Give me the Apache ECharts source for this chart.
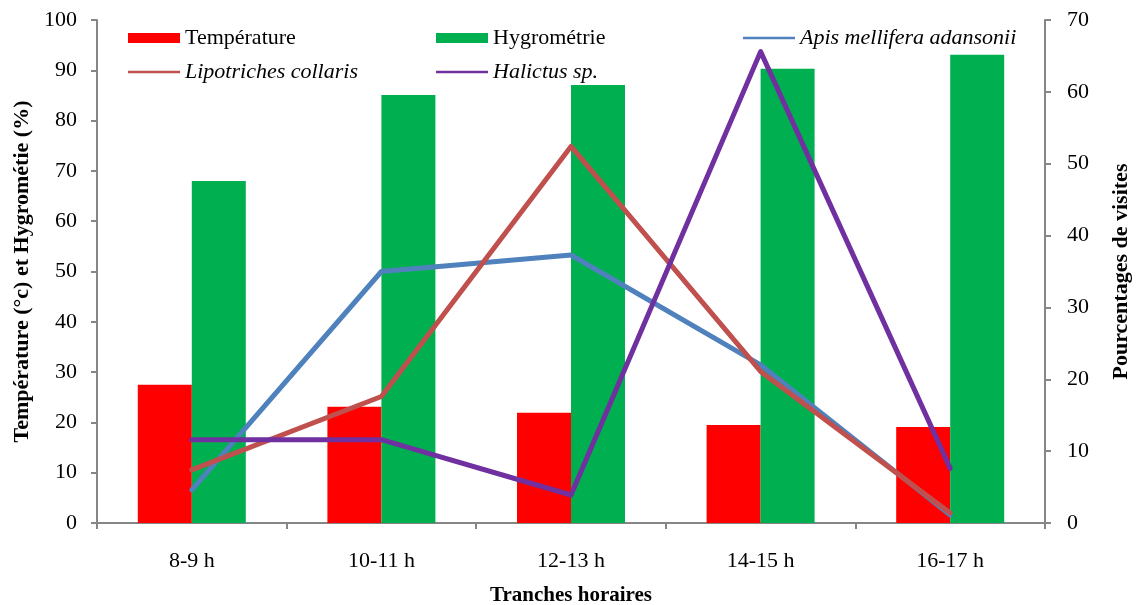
<!DOCTYPE html>
<html>
<head>
<meta charset="utf-8">
<script src="https://cdn.jsdelivr.net/npm/echarts@6/dist/echarts.min.js"></script>
<style>html,body{margin:0;padding:0;background:#fff;}#c{width:1138px;height:605px;}</style>
</head>
<body>
<div id="c"></div>
<script>
const categories = ['8-9 h', '10-11 h', '12-13 h', '14-15 h', '16-17 h'];
const temperature = [27.5, 23.1, 21.9, 19.5, 19.1];
const hygrometrie = [68.0, 85.1, 87.1, 90.3, 93.1];
const apis = [4.6, 35.0, 37.3, 22.0, 1.1];
const lipotriches = [7.4, 17.6, 52.4, 21.1, 1.4];
const halictus = [11.6, 11.6, 3.9, 65.6, 7.6];

const FONT = '"Liberation Serif", "Times New Roman", serif';
const AXC = '#868686';
const chart = echarts.init(document.getElementById('c'));

function leg(name, left, top, italic, isLine) {
  return {
    data: [{ name: name, icon: 'rect' }], left: left, top: top, padding: 0,
    itemWidth: 52, itemHeight: isLine ? 2.5 : 10, itemGap: 0,
    textStyle: { fontFamily: FONT, fontSize: 22, color: '#000', fontStyle: italic ? 'italic' : 'normal' }
  };
}

chart.setOption({
  animation: false,
  backgroundColor: '#fff',
  legend: [
    leg('Température', 128, 27, false, false),
    leg('Hygrométrie', 436, 27, false, false),
    leg('Apis mellifera adansonii', 743, 27, true, true),
    leg('Lipotriches collaris', 128, 61, true, true),
    leg('Halictus sp.', 436, 61, true, true)
  ],
  grid: { left: 97, right: 93, top: 20, bottom: 82, containLabel: false, outerBoundsMode: 'none' },
  xAxis: {
    type: 'category', data: categories,
    name: 'Tranches horaires', nameLocation: 'middle', nameGap: 62,
    nameTextStyle: { fontFamily: FONT, fontSize: 21, fontWeight: 'bold', color: '#000' },
    axisLine: { lineStyle: { color: AXC, width: 2 } },
    axisTick: { show: true, length: 6, lineStyle: { color: AXC, width: 2 } },
    axisLabel: { fontFamily: FONT, fontSize: 22, color: '#000', margin: 27 }
  },
  yAxis: [
    {
      type: 'value', min: 0, max: 100, interval: 10, position: 'left',
      name: 'Température (°c) et Hygrométie (%)', nameLocation: 'middle', nameGap: 64, nameRotate: 90,
      nameTextStyle: { fontFamily: FONT, fontSize: 22, fontWeight: 'bold', color: '#000' },
      axisLine: { show: true, lineStyle: { color: AXC, width: 2 } },
      axisTick: { show: true, length: 6, lineStyle: { color: AXC, width: 2 } },
      splitLine: { show: false },
      axisLabel: { fontFamily: FONT, fontSize: 22, color: '#000', margin: 20 }
    },
    {
      type: 'value', min: 0, max: 70, interval: 10, position: 'right',
      name: 'Pourcentages de visites', nameLocation: 'middle', nameGap: 65, nameRotate: 90,
      nameTextStyle: { fontFamily: FONT, fontSize: 22, fontWeight: 'bold', color: '#000' },
      axisLine: { show: true, lineStyle: { color: AXC, width: 2 } },
      axisTick: { show: true, length: 6, lineStyle: { color: AXC, width: 2 } },
      splitLine: { show: false },
      axisLabel: { fontFamily: FONT, fontSize: 22, color: '#000', margin: 22 }
    }
  ],
  series: [
    { name: 'Température', type: 'bar', data: temperature, yAxisIndex: 0, barWidth: 54, barGap: '0%',
      itemStyle: { color: '#FF0000' } },
    { name: 'Hygrométrie', type: 'bar', data: hygrometrie, yAxisIndex: 0, barWidth: 54, barGap: '0%',
      itemStyle: { color: '#00B050' } },
    { name: 'Apis mellifera adansonii', type: 'line', data: apis, yAxisIndex: 1, symbol: 'none',
      lineStyle: { color: '#4F81BD', width: 5, cap: 'round', join: 'round' }, itemStyle: { color: '#4F81BD' }, z: 3 },
    { name: 'Lipotriches collaris', type: 'line', data: lipotriches, yAxisIndex: 1, symbol: 'none',
      lineStyle: { color: '#C0504D', width: 5, cap: 'round', join: 'round' }, itemStyle: { color: '#C0504D' }, z: 4 },
    { name: 'Halictus sp.', type: 'line', data: halictus, yAxisIndex: 1, symbol: 'none',
      lineStyle: { color: '#7030A0', width: 5, cap: 'round', join: 'round' }, itemStyle: { color: '#7030A0' }, z: 5 }
  ]
});
</script>
</body>
</html>
